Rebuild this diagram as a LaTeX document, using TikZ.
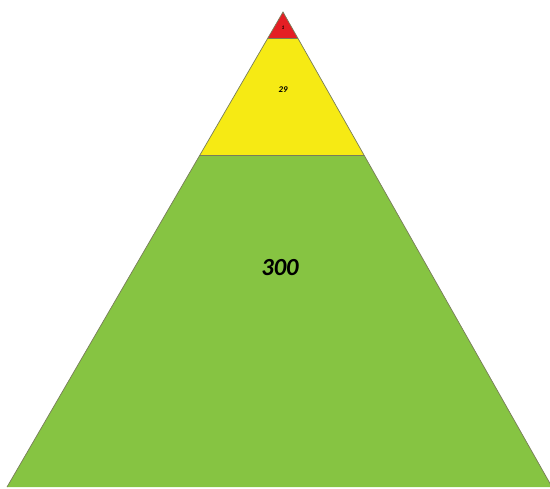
\documentclass[tikz,border=0pt]{standalone}
\usepackage{fontspec}
\setmainfont{Carlito}
\usepackage{xcolor}
\usepackage{tikz}
\usetikzlibrary{calc}
\definecolor{topRed}{RGB}{228, 30, 36}
\definecolor{midYellow}{RGB}{246, 234, 20}
\definecolor{baseGreen}{RGB}{134, 196, 66}
\definecolor{edgeGray}{RGB}{120, 125, 90}

\begin{document}
\begin{tikzpicture}[x=0.02cm, y=-0.02cm]
    \useasboundingbox (0, 0) rectangle (550, 488);
    % Corners of the pyramid
    \coordinate (apex) at (283, 12);
    \coordinate (baseL) at (7, 487);
    \coordinate (baseR) at (552, 487);
    % Level boundaries
    \coordinate (redL) at ($(apex)!0.0547!(baseL)$);
    \coordinate (redR) at ($(apex)!0.0547!(baseR)$);
    \coordinate (yelL) at ($(apex)!0.301!(baseL)$);
    \coordinate (yelR) at ($(apex)!0.301!(baseR)$);

    % Base level
    \fill[baseGreen] (yelL) -- (yelR) -- (baseR) -- (baseL) -- cycle;
    % Middle level
    \fill[midYellow] (redL) -- (redR) -- (yelR) -- (yelL) -- cycle;
    % Top level
    \fill[topRed] (apex) -- (redR) -- (redL) -- cycle;
    % Outlines
    \draw[edgeGray, line width=0.3pt] (redL) -- (redR);
    \draw[edgeGray, line width=0.3pt] (yelL) -- (yelR);
    \draw[edgeGray, line width=0.4pt] (baseL) -- (apex) -- (baseR);

    % Counts
    \node[font=\fontsize{3}{3}\selectfont\bfseries\itshape] (nTop) at (283, 28) {1};
    \node[font=\fontsize{5}{6}\selectfont\bfseries\itshape] (nMid) at (283, 90) {29};
    \node[font=\fontsize{14}{16}\selectfont\bfseries\itshape] (nBase) at (280, 268) {300};
\end{tikzpicture}
\end{document}
